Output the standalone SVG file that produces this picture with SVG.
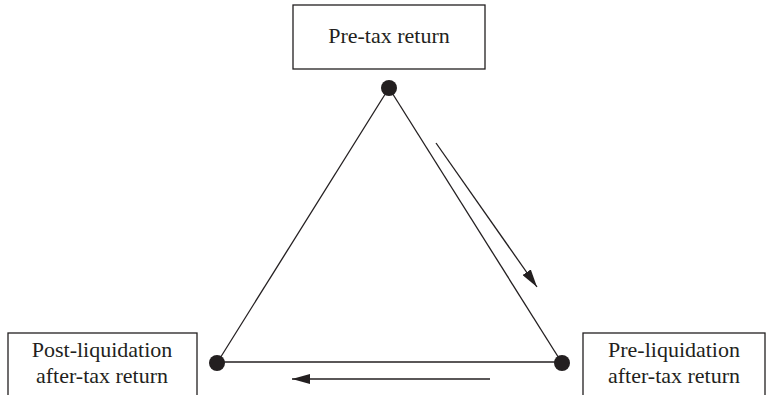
<svg xmlns="http://www.w3.org/2000/svg" width="768" height="395" viewBox="0 0 768 395">
<style>
.box{fill:#fff;stroke:#231f20;stroke-width:1.3}
.lbl{font-family:"Liberation Serif","Times New Roman",serif;font-size:22px;fill:#231f20;text-anchor:middle}
.edge{stroke:#231f20;stroke-width:1.3;fill:none}
.dot{fill:#231f20}
</style>
<defs>
<marker id="ah" markerWidth="18" markerHeight="10" refX="18" refY="5" orient="auto" markerUnits="userSpaceOnUse">
<path d="M0,0 L18,5 L0,10 Z" fill="#231f20"/>
</marker>
</defs>
<rect width="768" height="395" fill="#fff"/>
<g id="connectors">
<line class="edge" x1="389" y1="88" x2="217" y2="363"/>
<line class="edge" x1="389" y1="88" x2="562" y2="363"/>
<line class="edge" x1="217" y1="362" x2="562" y2="362"/>
<line class="edge" x1="436" y1="143" x2="537" y2="287" marker-end="url(#ah)"/>
<line class="edge" x1="490" y1="379" x2="292" y2="379" marker-end="url(#ah)"/>
</g>
<g id="node-top">
<rect class="box" x="293" y="5" width="192" height="64"/>
<text class="lbl" x="389" y="43">Pre-tax return</text>
<circle class="dot" cx="389" cy="88" r="8"/>
</g>
<g id="node-left">
<rect class="box" x="8" y="333" width="189" height="70"/>
<text class="lbl" x="102" y="357">Post-liquidation</text>
<text class="lbl" x="102" y="383">after-tax return</text>
<circle class="dot" cx="217" cy="363" r="8"/>
</g>
<g id="node-right">
<rect class="box" x="583" y="333" width="182" height="70"/>
<text class="lbl" x="674" y="357">Pre-liquidation</text>
<text class="lbl" x="674" y="383">after-tax return</text>
<circle class="dot" cx="562" cy="363" r="8"/>
</g>
</svg>
